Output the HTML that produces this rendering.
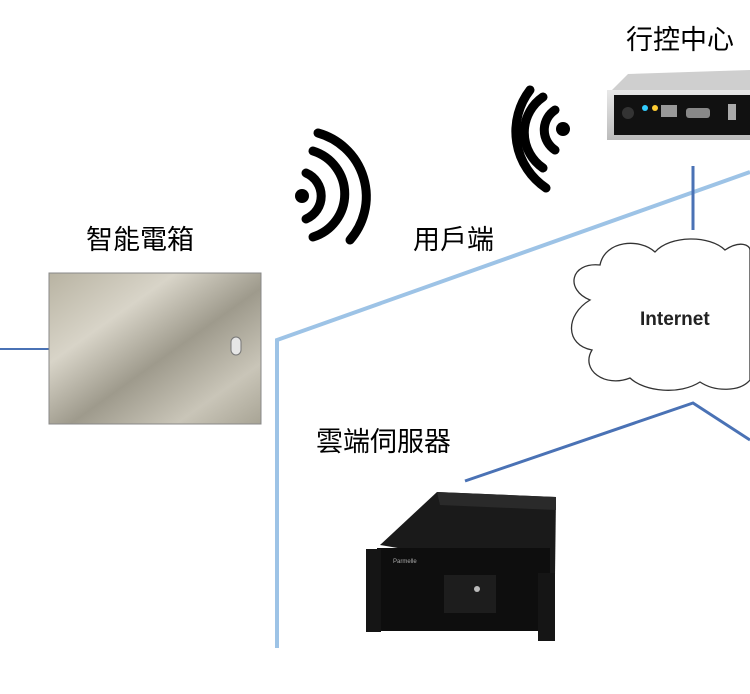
<!DOCTYPE html>
<html><head><meta charset="utf-8"><style>
html,body{margin:0;padding:0;background:#fff;width:750px;height:694px;overflow:hidden}
svg{display:block}
text{font-family:"Liberation Sans","Noto Sans CJK TC",sans-serif}
</style></head><body>
<svg width="750" height="694" viewBox="0 0 750 694">
<defs>
<linearGradient id="box" x1="0" y1="0" x2="1" y2="1">
<stop offset="0" stop-color="#b8b3a2"/><stop offset="0.3" stop-color="#d8d4c8"/><stop offset="0.55" stop-color="#9e9a8c"/><stop offset="0.8" stop-color="#c9c5b8"/><stop offset="1" stop-color="#a8a495"/>
</linearGradient>
<linearGradient id="dev" x1="0" y1="0" x2="0" y2="1">
<stop offset="0" stop-color="#e8e8e8"/><stop offset="1" stop-color="#bbb"/>
</linearGradient>
</defs>
<line x1="0" y1="349" x2="49" y2="349" stroke="#4a72b5" stroke-width="2"/>
<polyline points="277,648 277,340 750,172" fill="none" stroke="#9dc3e6" stroke-width="4"/>
<line x1="693" y1="166" x2="693" y2="230" stroke="#4a72b5" stroke-width="3"/>
<polyline points="465,481 693,403 750,440" fill="none" stroke="#4a72b5" stroke-width="3"/>
<text x="86" y="249" font-size="27">智能電箱</text>
<text x="413" y="249" font-size="27">用戶端</text>
<text x="626" y="49" font-size="27">行控中心</text>
<text x="316" y="451" font-size="27">雲端伺服器</text>
<rect x="49" y="273" width="212" height="151" fill="url(#box)"/>
<rect x="49" y="273" width="212" height="151" fill="none" stroke="#888" stroke-width="1"/>
<rect x="231" y="337" width="10" height="18" rx="5" fill="#e6e6e6" stroke="#777"/>
<g fill="none" stroke="#000" stroke-width="9" stroke-linecap="round">
<circle cx="302" cy="196" r="7" fill="#000" stroke="none"/>
<path d="M306,173 A25,25 0 0 1 306,219"/>
<path d="M313,151 A45,45 0 0 1 313,237"/>
<path d="M318,133 A66,66 0 0 1 350,240"/>
</g>
<g fill="none" stroke="#000" stroke-width="9" stroke-linecap="round">
<circle cx="563" cy="129" r="7" fill="#000" stroke="none"/>
<path d="M555,110 A24,24 0 0 0 555,150"/>
<path d="M543,97 A43,43 0 0 0 543,168"/>
<path d="M530,90 A68,68 0 0 0 546,188"/>
</g>
<polygon points="612,90 628,74 750,70 750,92" fill="#cfcfcf"/>
<rect x="607" y="90" width="143" height="50" fill="url(#dev)"/>
<rect x="614" y="95" width="136" height="40" fill="#111"/>
<circle cx="628" cy="113" r="6" fill="#333"/><circle cx="645" cy="108" r="3" fill="#3cf"/><circle cx="655" cy="108" r="3" fill="#fc3"/>
<rect x="661" y="105" width="16" height="12" fill="#999"/>
<rect x="686" y="108" width="24" height="10" rx="3" fill="#888"/>
<rect x="728" y="104" width="8" height="16" fill="#aaa"/>
<path d="M590,300 C565,290 570,262 600,265 C605,240 640,238 655,252 C670,235 710,235 725,250 C740,240 750,245 750,250 L750,380 C740,392 715,392 700,382 C680,395 645,392 630,378 C605,388 580,370 592,350 C565,345 565,315 590,300 Z" fill="#fff" stroke="#333" stroke-width="1.3"/>
<text x="640" y="325" font-size="19" font-weight="bold" fill="#222">Internet</text>
<polygon points="380,545 437,492 556,497 555,575" fill="#1a1a1a"/>
<polygon points="437,492 556,497 556,510 440,505" fill="#2a2a2a"/>
<rect x="377" y="548" width="173" height="83" fill="#0e0e0e"/>
<rect x="366" y="549" width="15" height="83" fill="#151515"/>
<rect x="538" y="573" width="17" height="68" fill="#151515"/>
<rect x="444" y="575" width="52" height="38" fill="#1d1d1d"/>
<circle cx="477" cy="589" r="3" fill="#bbb"/>
<text x="393" y="563" font-size="6" fill="#aaa">Parmelle</text>
</svg>
</body></html>
